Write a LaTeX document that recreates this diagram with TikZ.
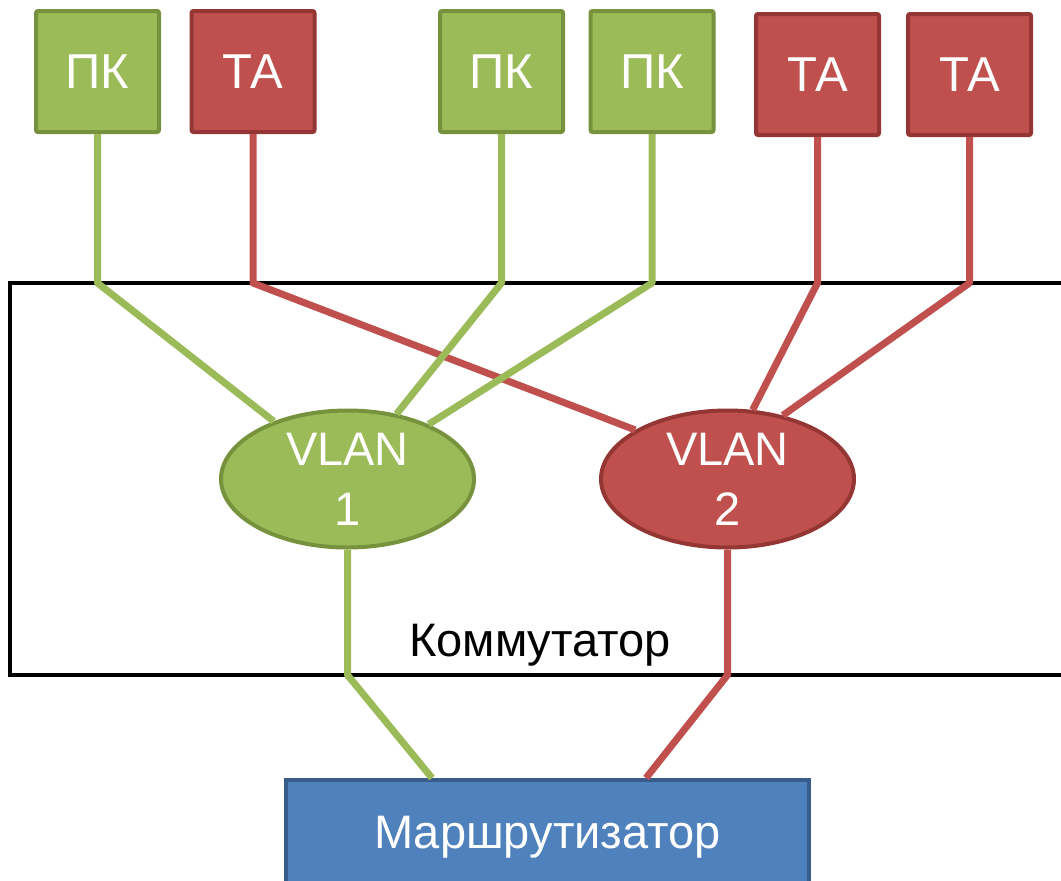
\documentclass[tikz,border=0pt]{standalone}
\usepackage{fontspec}
\setmainfont{Liberation Sans}
\usetikzlibrary{shapes.geometric}

\definecolor{pcfill}{HTML}{9BBB59}
\definecolor{pcedge}{HTML}{76923C}
\definecolor{tafill}{HTML}{C0504D}
\definecolor{taedge}{HTML}{943634}
\definecolor{rtfill}{HTML}{4F81BD}
\definecolor{rtedge}{HTML}{385D8A}

\tikzset{
  dev/.style={rectangle, rounded corners=2pt, line width=4pt, inner sep=0pt,
    minimum width=123pt, minimum height=121pt, text=white,
    font=\fontsize{49}{58}\selectfont},
  pcbox/.style={dev, fill=pcfill, draw=pcedge},
  tabox/.style={dev, fill=tafill, draw=taedge},
  vlan/.style={ellipse, line width=4pt, inner sep=0pt, minimum width=253pt,
    minimum height=137pt, text=white, align=center,
    font=\fontsize{47}{60}\selectfont},
  greenlink/.style={draw=pcfill, line width=7pt, line join=round},
  redlink/.style={draw=tafill, line width=7pt, line join=round},
}

\begin{document}
\begin{tikzpicture}[x=1pt, y=-1pt]
  \useasboundingbox (0,0) rectangle (1061,881);
  \clip (0,0) rectangle (1061,881);

  % switch chassis
  \draw[line width=4.5pt] (10,283) rectangle (1090,675);
  \node[font=\fontsize{47}{56}\selectfont, anchor=base] (sw) at (540,656) {Коммутатор};

  % end devices
  \node[pcbox] (pc1) at (97.5,71.5) {ПК};
  \node[tabox] (ta1) at (253,71.5) {ТА};
  \node[pcbox] (pc2) at (501.5,71.5) {ПК};
  \node[pcbox] (pc3) at (652,71.5) {ПК};
  \node[tabox] (ta2) at (817.5,74.5) {ТА};
  \node[tabox] (ta3) at (969.5,74.5) {ТА};

  % virtual networks
  \node[vlan, fill=pcfill, draw=pcedge] (v1) at (347.5,479) {VLAN\\1};
  \node[vlan, fill=tafill, draw=taedge] (v2) at (727.5,479) {VLAN\\2};

  % router
  \node[rectangle, fill=rtfill, draw=rtedge, line width=4pt, anchor=north,
        minimum width=523pt, minimum height=160pt, inner sep=0pt] (rt) at (547.5,778) {};
  \node[text=white, font=\fontsize{47}{56}\selectfont, anchor=base] (rtl) at (547.5,848) {Маршрутизатор};

  % bends where the links enter and leave the switch
  \coordinate (b1) at (pc1.south |- 0,283);
  \coordinate (b2) at (ta1.south |- 0,283);
  \coordinate (b3) at (pc2.south |- 0,283);
  \coordinate (b4) at (pc3.south |- 0,283);
  \coordinate (b5) at (ta2.south |- 0,283);
  \coordinate (b6) at (ta3.south |- 0,283);
  \coordinate (g1) at (v1.south |- 0,675);
  \coordinate (r1) at (v2.south |- 0,675);
  \coordinate (g2) at (432,778);
  \coordinate (r2) at (646,778);

  % links
  \draw[greenlink] (pc1.south) -- (b1) -- (v1.142);
  \draw[redlink]   (ta1.south) -- (b2) -- (v2.152);
  \draw[greenlink] (pc2.south) -- (b3) -- (v1.53);
  \draw[greenlink] (pc3.south) -- (b4) -- (v1.34);
  \draw[redlink]   (ta2.south) -- (b5) -- (v2.70);
  \draw[redlink]   (ta3.south) -- (b6) -- (v2.49);
  \draw[greenlink] (v1.south) -- (g1) -- (g2);
  \draw[redlink]   (v2.south) -- (r1) -- (r2);
\end{tikzpicture}
\end{document}
